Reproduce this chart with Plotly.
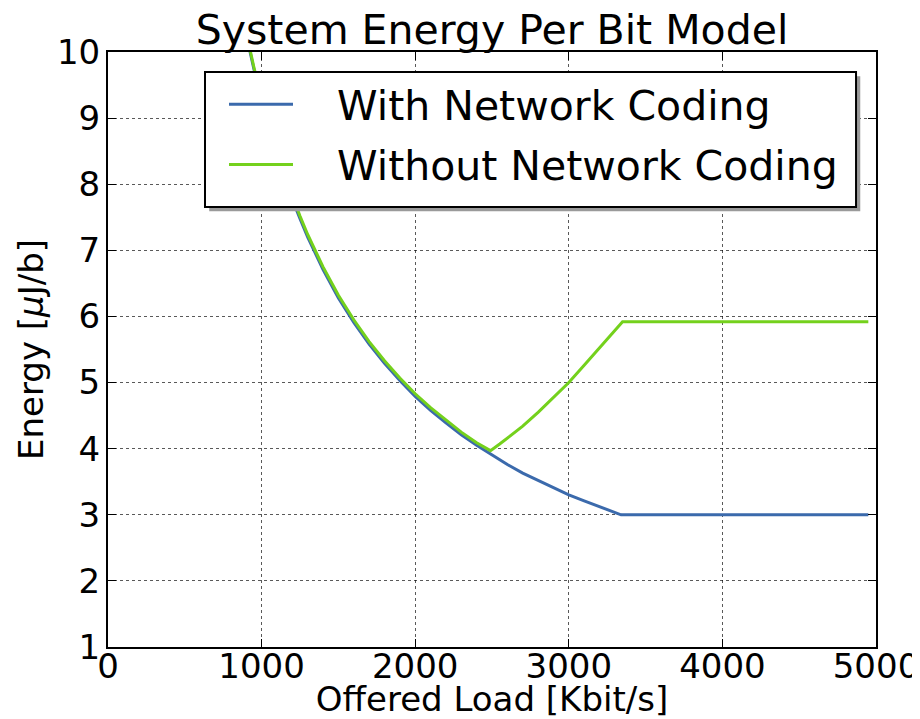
import plotly.graph_objects as go

# Offered load [Kbit/s]
load_nc = [850, 900, 950, 1000, 1050, 1100, 1150, 1200, 1250, 1300, 1400, 1500, 1600, 1700,
           1800, 1900, 2000, 2100, 2200, 2300, 2400, 2500, 2600, 2700, 2800, 2900, 3000,
           3100, 3200, 3300, 3340, 3500, 4000, 4500, 4950]
energy_nc = [10.84, 10.26, 9.74, 9.26, 8.84, 8.45, 8.10, 7.77, 7.48, 7.20, 6.71, 6.28, 5.91,
             5.58, 5.29, 5.03, 4.79, 4.58, 4.39, 4.21, 4.05, 3.90, 3.76, 3.63, 3.52, 3.41,
             3.30, 3.21, 3.12, 3.03, 3.00, 3.00, 3.00, 3.00, 3.00]

load_wo = [850, 900, 950, 1000, 1050, 1100, 1150, 1200, 1250, 1300, 1400, 1500, 1600, 1700,
           1800, 1900, 2000, 2100, 2200, 2300, 2400, 2490, 2550, 2600, 2650, 2700, 2800,
           2900, 3000, 3100, 3200, 3300, 3350, 3500, 4000, 4500, 4950]
energy_wo = [10.87, 10.29, 9.77, 9.29, 8.87, 8.48, 8.13, 7.81, 7.52, 7.24, 6.75, 6.32, 5.95,
             5.62, 5.33, 5.07, 4.83, 4.62, 4.43, 4.25, 4.09, 3.97, 4.07, 4.16, 4.25, 4.34,
             4.55, 4.77, 5.00, 5.26, 5.53, 5.80, 5.92, 5.92, 5.92, 5.92, 5.92]

series_names = ["With Network Coding", "Without Network Coding"]
series_colors = ["#3b6aac", "#74d11c"]

x_ticks = [0, 1000, 2000, 3000, 4000, 5000]
y_ticks = [1, 2, 3, 4, 5, 6, 7, 8, 9, 10]

FONT = "DejaVu Sans"
PAD = "\u00a0\u00a0\u00a0"

fig = go.Figure()
fig.add_trace(go.Scatter(x=load_nc, y=energy_nc, mode="lines", name=PAD + series_names[0],
                         legendgroup="a",
                         line=dict(color=series_colors[0], width=3)))
fig.add_trace(go.Scatter(x=load_wo, y=energy_wo, mode="lines", name=PAD + series_names[1],
                         legendgroup="b",
                         line=dict(color=series_colors[1], width=3)))

axis_common = dict(
    showline=True, linecolor="black", linewidth=2, mirror="allticks",
    ticks="inside", ticklen=8, tickwidth=1, tickcolor="black",
    showgrid=True, gridcolor="rgba(0,0,0,0.65)", gridwidth=1, griddash="dot",
    zeroline=False, automargin=True,
    tickfont=dict(family=FONT, size=34, color="black"),
)

# legend frame (box + drop shadow), in plot-area fractions
box_x0, box_x1, box_y0, box_y1 = 0.1263, 0.9740, 0.7395, 0.9664
sh_dx, sh_dy = 0.0055, 0.0070

fig.update_layout(
    width=912, height=711,
    margin=dict(l=100, r=44, t=44, b=72, autoexpand=False),
    paper_bgcolor="white", plot_bgcolor="white",
    font=dict(family=FONT, color="black"),
    title=dict(text="System Energy Per Bit Model", x=0.5, xanchor="center",
               xref="paper", yref="paper", y=1.0, yanchor="bottom",
               pad=dict(b=8), font=dict(family=FONT, size=41, color="black")),
    xaxis=dict(range=[0, 5000], tickvals=x_ticks, ticktext=[str(v) for v in x_ticks],
               title=dict(text="Offered Load [Kbit/s]", standoff=3,
                          font=dict(family=FONT, size=34, color="black")),
               ticklabelstandoff=-12, **axis_common),
    yaxis=dict(range=[1, 10], tickvals=y_ticks, ticktext=[str(v) for v in y_ticks],
               title=dict(text="Energy [<i>μ</i>J/b]", standoff=3,
                          font=dict(family=FONT, size=34, color="black")),
               ticklabelstandoff=-1, **axis_common),
    legend=dict(x=(224 - 108) / 768, y=0.968, xanchor="left", yanchor="top",
                bgcolor="rgba(0,0,0,0)", borderwidth=0,
                font=dict(family=FONT, size=41, color="black"),
                itemwidth=64, tracegroupgap=4),
    showlegend=True,
    shapes=[
        dict(type="rect", xref="paper", yref="paper", layer="above",
             x0=box_x0 + sh_dx, x1=box_x1 + sh_dx, y0=box_y0 - sh_dy, y1=box_y1 - sh_dy,
             fillcolor="#9a9a9a", line=dict(width=0)),
        dict(type="rect", xref="paper", yref="paper", layer="above",
             x0=box_x0, x1=box_x1, y0=box_y0, y1=box_y1,
             fillcolor="white", line=dict(color="black", width=2)),
    ],
)

fig.write_html("out.html")
